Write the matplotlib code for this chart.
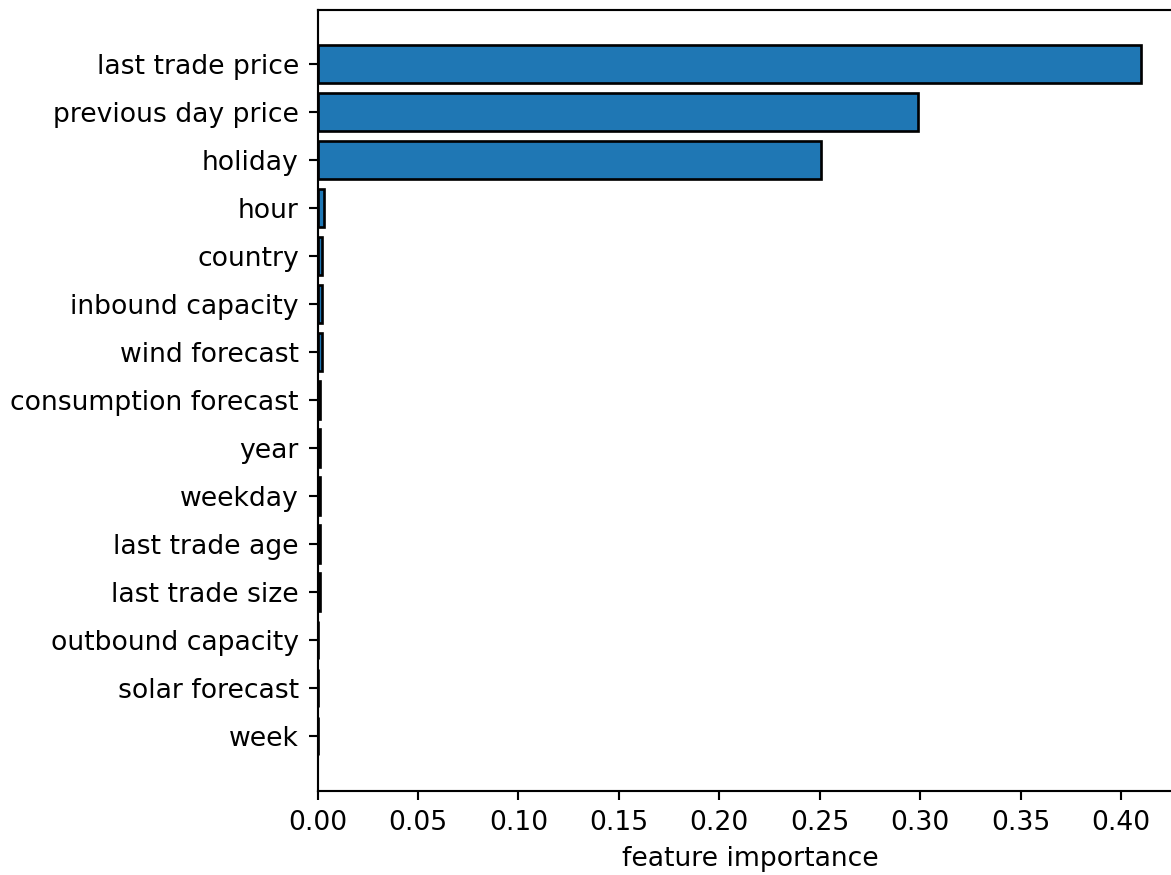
import numpy as np
import matplotlib.pyplot as plt

features = ["last trade price", "previous day price", "holiday", "hour", "country",
            "inbound capacity", "wind forecast", "consumption forecast", "year",
            "weekday", "last trade age", "last trade size", "outbound capacity",
            "solar forecast", "week"]
importance = [0.410, 0.299, 0.2505, 0.003, 0.002, 0.002, 0.002, 0.0012, 0.0011,
              0.0011, 0.0010, 0.0010, 0.0003, 0.0002, 0.0001]

DPI = 192
fig = plt.figure(figsize=(1171 / DPI, 875 / DPI), dpi=DPI)
ax = fig.add_axes([317.5 / 1171, 1 - 791 / 875, 865 / 1171, 781.5 / 875])

# reverse so the biggest one sits on top
y = np.arange(len(features))[::-1]
ax.barh(y, importance, color="#1f77b4", edgecolor="black")
ax.set_yticks(y)
ax.set_yticklabels(features)
ax.set_xlabel("feature importance")

fig.savefig("out.png", dpi=DPI)
